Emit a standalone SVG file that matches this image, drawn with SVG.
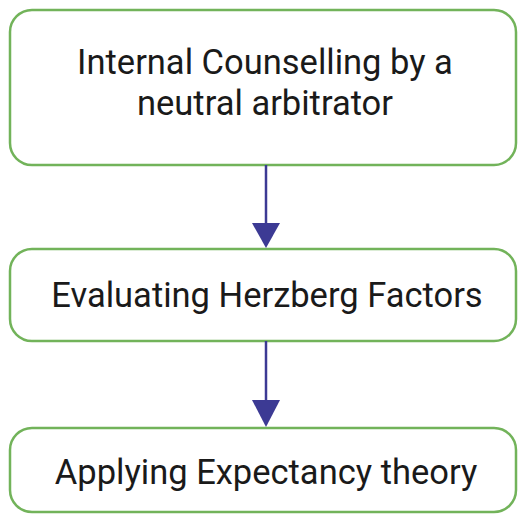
<svg xmlns="http://www.w3.org/2000/svg" width="518" height="514" viewBox="0 0 518 514">
<style>
.box{fill:#ffffff;stroke:#72b35a;stroke-width:2.5}
.t{font-family:Roboto,"Liberation Sans",sans-serif;font-size:34.5px;fill:#1a1a1a;text-anchor:middle}
.c{stroke:#3c3a94;stroke-width:2.5;fill:none}
.h{fill:#3c3a94}
</style>
<rect width="518" height="514" fill="#ffffff"/>
<g id="node1">
<rect class="box" x="10" y="10" width="506" height="155" rx="22"/>
<text class="t" x="265" y="74">Internal Counselling by a</text>
<text class="t" x="265" y="115">neutral arbitrator</text>
</g>
<g id="node2">
<rect class="box" x="10" y="249" width="506" height="92" rx="22"/>
<text class="t" x="267" y="307">Evaluating Herzberg Factors</text>
</g>
<g id="node3">
<rect class="box" x="10" y="428" width="506" height="84" rx="22"/>
<text class="t" x="266" y="484">Applying Expectancy theory</text>
</g>
<g id="connectors">
<line class="c" x1="266" y1="165" x2="266" y2="226"/>
<polygon class="h" points="252,223 280,223 266,248"/>
<line class="c" x1="266" y1="341" x2="266" y2="403"/>
<polygon class="h" points="252,400 280,400 266,427"/>
</g>
</svg>
